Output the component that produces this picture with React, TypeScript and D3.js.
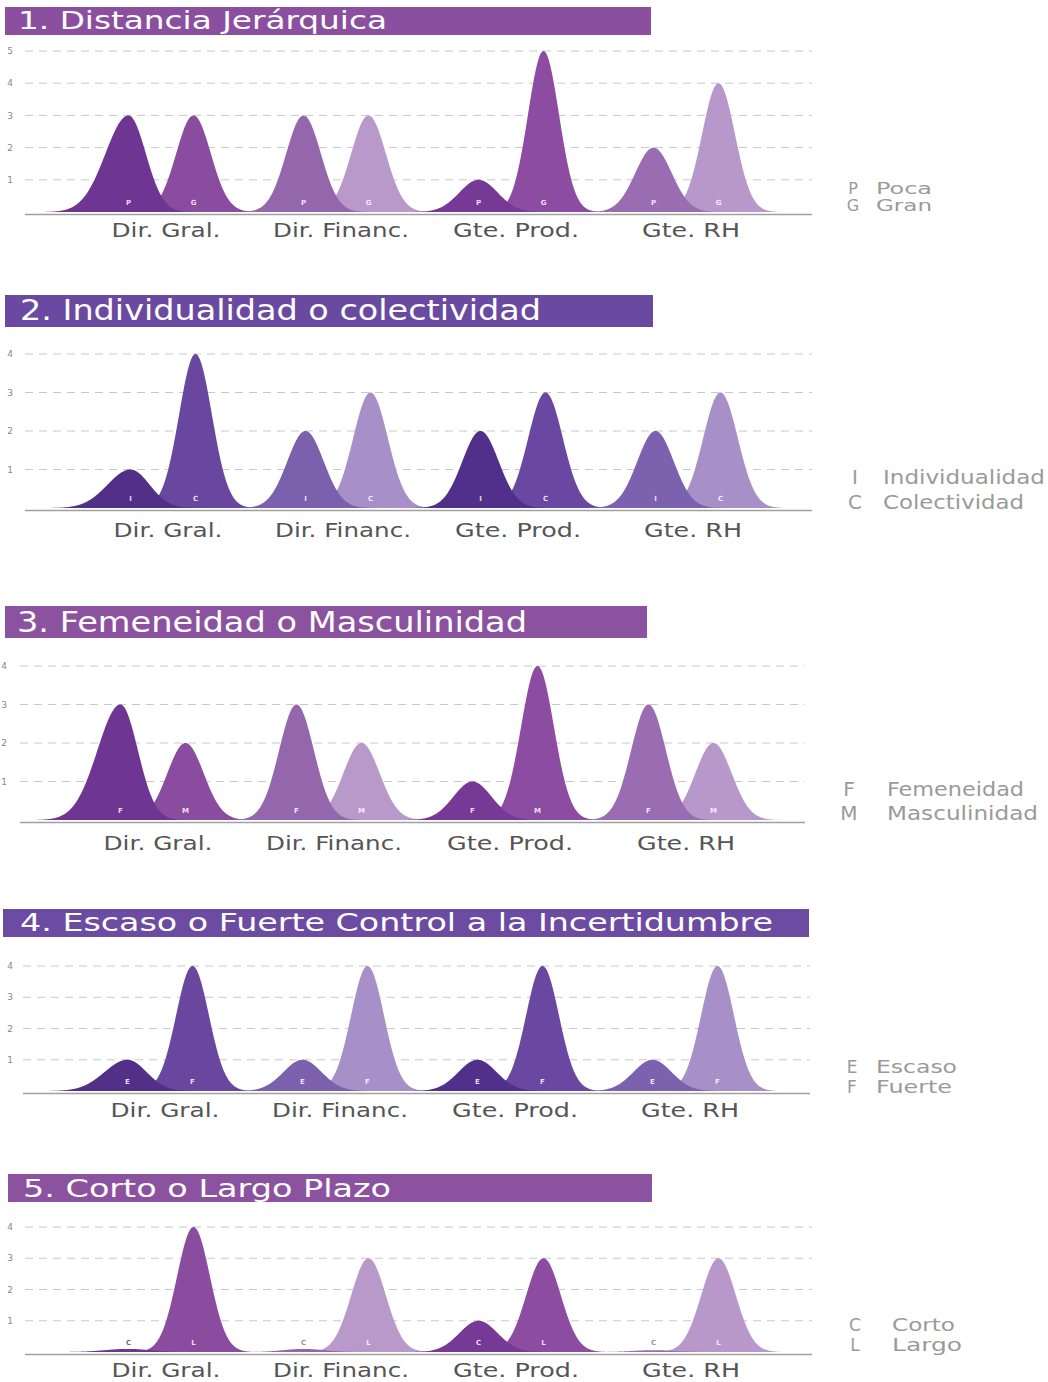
import React from "react";
import * as d3 from "d3";

// ---------- DATA ----------
const categories = ["Dir. Gral.", "Dir. Financ.", "Gte. Prod.", "Gte. RH"];
const titles = [
  "1. Distancia Jerárquica",
  "2. Individualidad o colectividad",
  "3. Femeneidad o Masculinidad",
  "4. Escaso o Fuerte Control a la Incertidumbre",
  "5. Corto o Largo Plazo",
];
const seriesLetters = [
  ["P", "G"],
  ["I", "C"],
  ["F", "M"],
  ["E", "F"],
  ["C", "L"],
];
const legendNames = [
  ["Poca", "Gran"],
  ["Individualidad", "Colectividad"],
  ["Femeneidad", "Masculinidad"],
  ["Escaso", "Fuerte"],
  ["Corto", "Largo"],
];
const yTickMax = [5, 4, 4, 4, 4];

const poca = [3, 3, 1, 2];
const gran = [3, 3, 5, 4];
const individualidad = [1, 2, 2, 2];
const colectividad = [4, 3, 3, 3];
const femeneidad = [3, 3, 1, 3];
const masculinidad = [2, 2, 4, 2];
const escaso = [1, 1, 1, 1];
const fuerte = [4, 4, 4, 4];
const corto = [0.1, 0.1, 1, 0.06];
const largo = [4, 3, 3, 3];

const firstSeries = [poca, individualidad, femeneidad, escaso, corto];
const secondSeries = [gran, colectividad, masculinidad, fuerte, largo];

// ---------- STYLE / LAYOUT ----------
const PALETTES = [
  ["#6e3593", "#8a4c9f", "#9467ad", "#b899c9", "#763a96", "#8b4ca1", "#9a6db2", "#b898ca"],
  ["#523087", "#6a479f", "#7b60ae", "#a690c7", "#50308a", "#6a47a0", "#7c61af", "#a790c8"],
];

const CAT_WIDTHS = [109, 136, 126, 98];

const LAYOUT = [
  { hx: 5, hy: 7, hw: 646, hh: 28, tx: 18, tb: 29, tw: 369, tf: 25, base: 212, top: 51, xr: [161, 686], gx0: 25, gx1: 812, tickX: 10, lx: 853, lwx: 876, ly: [194, 211], lf: 16, lw: [56, 56], catB: 237, pal: 0, hc: "#8a509f" },
  { hx: 5, hy: 295, hw: 648, hh: 32, tx: 20, tb: 320, tw: 521, tf: 28, base: 508, top: 354, xr: [163, 688], gx0: 25, gx1: 812, tickX: 10, lx: 855, lwx: 883, ly: [484, 509], lf: 20, lw: [162, 141], catB: 537, pal: 1, hc: "#6a4aa0" },
  { hx: 5, hy: 606, hw: 642, hh: 32, tx: 17, tb: 632, tw: 510, tf: 28, base: 820, top: 666, xr: [153, 681], gx0: 20, gx1: 805, tickX: 4, lx: 849, lwx: 887, ly: [796, 820], lf: 20, lw: [137, 151], catB: 850, pal: 0, hc: "#8b52a0" },
  { hx: 3, hy: 909, hw: 806, hh: 28, tx: 20, tb: 931, tw: 753, tf: 25, base: 1091, top: 966, xr: [160, 685], gx0: 23, gx1: 810, tickX: 10, lx: 852, lwx: 876, ly: [1073, 1093], lf: 17, lw: [81, 76], catB: 1117, pal: 1, hc: "#6b4ca2" },
  { hx: 8, hy: 1174, hw: 644, hh: 28, tx: 23, tb: 1197, tw: 368, tf: 25, base: 1352, top: 1227, xr: [161, 686], gx0: 25, gx1: 812, tickX: 10, lx: 855, lwx: 892, ly: [1331, 1351], lf: 17, lw: [63, 70], catB: 1377, pal: 0, hc: "#8b52a0" },
];

const FONT = "'DejaVu Sans', 'Open Sans', sans-serif";
const PAIR_OFFSET = 32.5;

function bell(center: number, height: number, sigL: number, sigR: number) {
  const pts: [number, number][] = [];
  const x0 = center - 3.6 * sigL;
  const x1 = center + 3.6 * sigR;
  for (let x = x0; x <= x1; x += 0.5) {
    const s = x < center ? sigL : sigR;
    const d = (x - center) / s;
    pts.push([x, height * Math.exp(-0.5 * d * d)]);
  }
  return pts;
}

function Panel({ idx }: { idx: number }) {
  const L = LAYOUT[idx];
  const pal = PALETTES[L.pal];
  const maxV = yTickMax[idx];
  const y = d3.scaleLinear().domain([0, maxV]).range([L.base, L.top]);
  const xGroup = d3.scalePoint<string>().domain(categories).range(L.xr as [number, number]);
  const ticks = d3.range(1, maxV + 1);
  const area = d3
    .area<[number, number]>()
    .x((d) => d[0])
    .y0(L.base)
    .y1((d) => y(d[1]))
    .curve(d3.curveLinear);

  const sigma = (v: number) => 20 - 0.9 * Math.min(v, 5);

  return (
    <g>
      <rect x={L.hx} y={L.hy} width={L.hw} height={L.hh} fill={L.hc} />
      <text
        x={L.tx}
        y={L.tb}
        fill="#fff"
        fontSize={L.tf}
        fontFamily={FONT}
        textLength={L.tw}
        lengthAdjust="spacingAndGlyphs"
      >
        {titles[idx]}
      </text>
      {ticks.map((t) => (
        <g key={t}>
          <line
            x1={L.gx0}
            x2={L.gx1}
            y1={y(t)}
            y2={y(t)}
            stroke="#c8c8c8"
            strokeDasharray="8,6"
            strokeWidth={1}
          />
          <text x={L.tickX} y={y(t)} dy="0.35em" fontSize={9} fill="#888" textAnchor="middle" fontFamily={FONT}>
            {t}
          </text>
        </g>
      ))}
      {categories.map((c, gi) => {
        const cx = xGroup(c) as number;
        const v1 = firstSeries[idx][gi];
        const v2 = secondSeries[idx][gi];
        const c1 = cx - PAIR_OFFSET;
        const c2 = cx + PAIR_OFFSET;
        const s1 = sigma(v1);
        const s2 = sigma(v2);
        const p1 = bell(c1, v1, gi === 0 ? 23 : s1, s1);
        const p2 = bell(c2, v2, s2, s2);
        const lx = cx + 5;
        const w = CAT_WIDTHS[gi];
        const f1 = v1 < 0.5 ? pal[gi * 2] : "#fff";
        const f2 = v2 < 0.5 ? pal[gi * 2 + 1] : "#fff";
        return (
          <g key={c}>
            <path d={area(p2) as string} fill={pal[gi * 2 + 1]} />
            <path d={area(p1) as string} fill={pal[gi * 2]} />
            <text x={c1} y={L.base - 7} fontSize={7} fontWeight="bold" fill={f1} fillOpacity={0.85} textAnchor="middle" fontFamily={FONT}>
              {seriesLetters[idx][0]}
            </text>
            <text x={c2} y={L.base - 7} fontSize={7} fontWeight="bold" fill={f2} fillOpacity={0.85} textAnchor="middle" fontFamily={FONT}>
              {seriesLetters[idx][1]}
            </text>
            <text
              x={lx - w / 2}
              y={L.catB}
              fontSize={19}
              fill="#555"
              fontFamily={FONT}
              textLength={w}
              lengthAdjust="spacingAndGlyphs"
            >
              {c}
            </text>
          </g>
        );
      })}
      <line x1={L.gx0} x2={L.gx1} y1={L.base + 2.5} y2={L.base + 2.5} stroke="#a0a0a0" strokeWidth={1.5} />
      {[0, 1].map((k) => (
        <g key={k}>
          <text x={L.lx} y={L.ly[k]} fontSize={L.lf} fill="#9a9a9a" textAnchor="middle" fontFamily={FONT}>
            {seriesLetters[idx][k]}
          </text>
          <text
            x={L.lwx}
            y={L.ly[k]}
            fontSize={L.lf}
            fill="#9a9a9a"
            fontFamily={FONT}
            textLength={L.lw[k]}
            lengthAdjust="spacingAndGlyphs"
          >
            {legendNames[idx][k]}
          </text>
        </g>
      ))}
    </g>
  );
}

export default function App() {
  return (
    <svg
      width={1048}
      height={1382}
      viewBox="0 0 1048 1382"
      style={{ position: "absolute", left: 0, top: 0, background: "#fff" }}
    >
      <rect x={0} y={0} width={1048} height={1382} fill="#fff" />
      {titles.map((_, i) => (
        <Panel key={i} idx={i} />
      ))}
    </svg>
  );
}
